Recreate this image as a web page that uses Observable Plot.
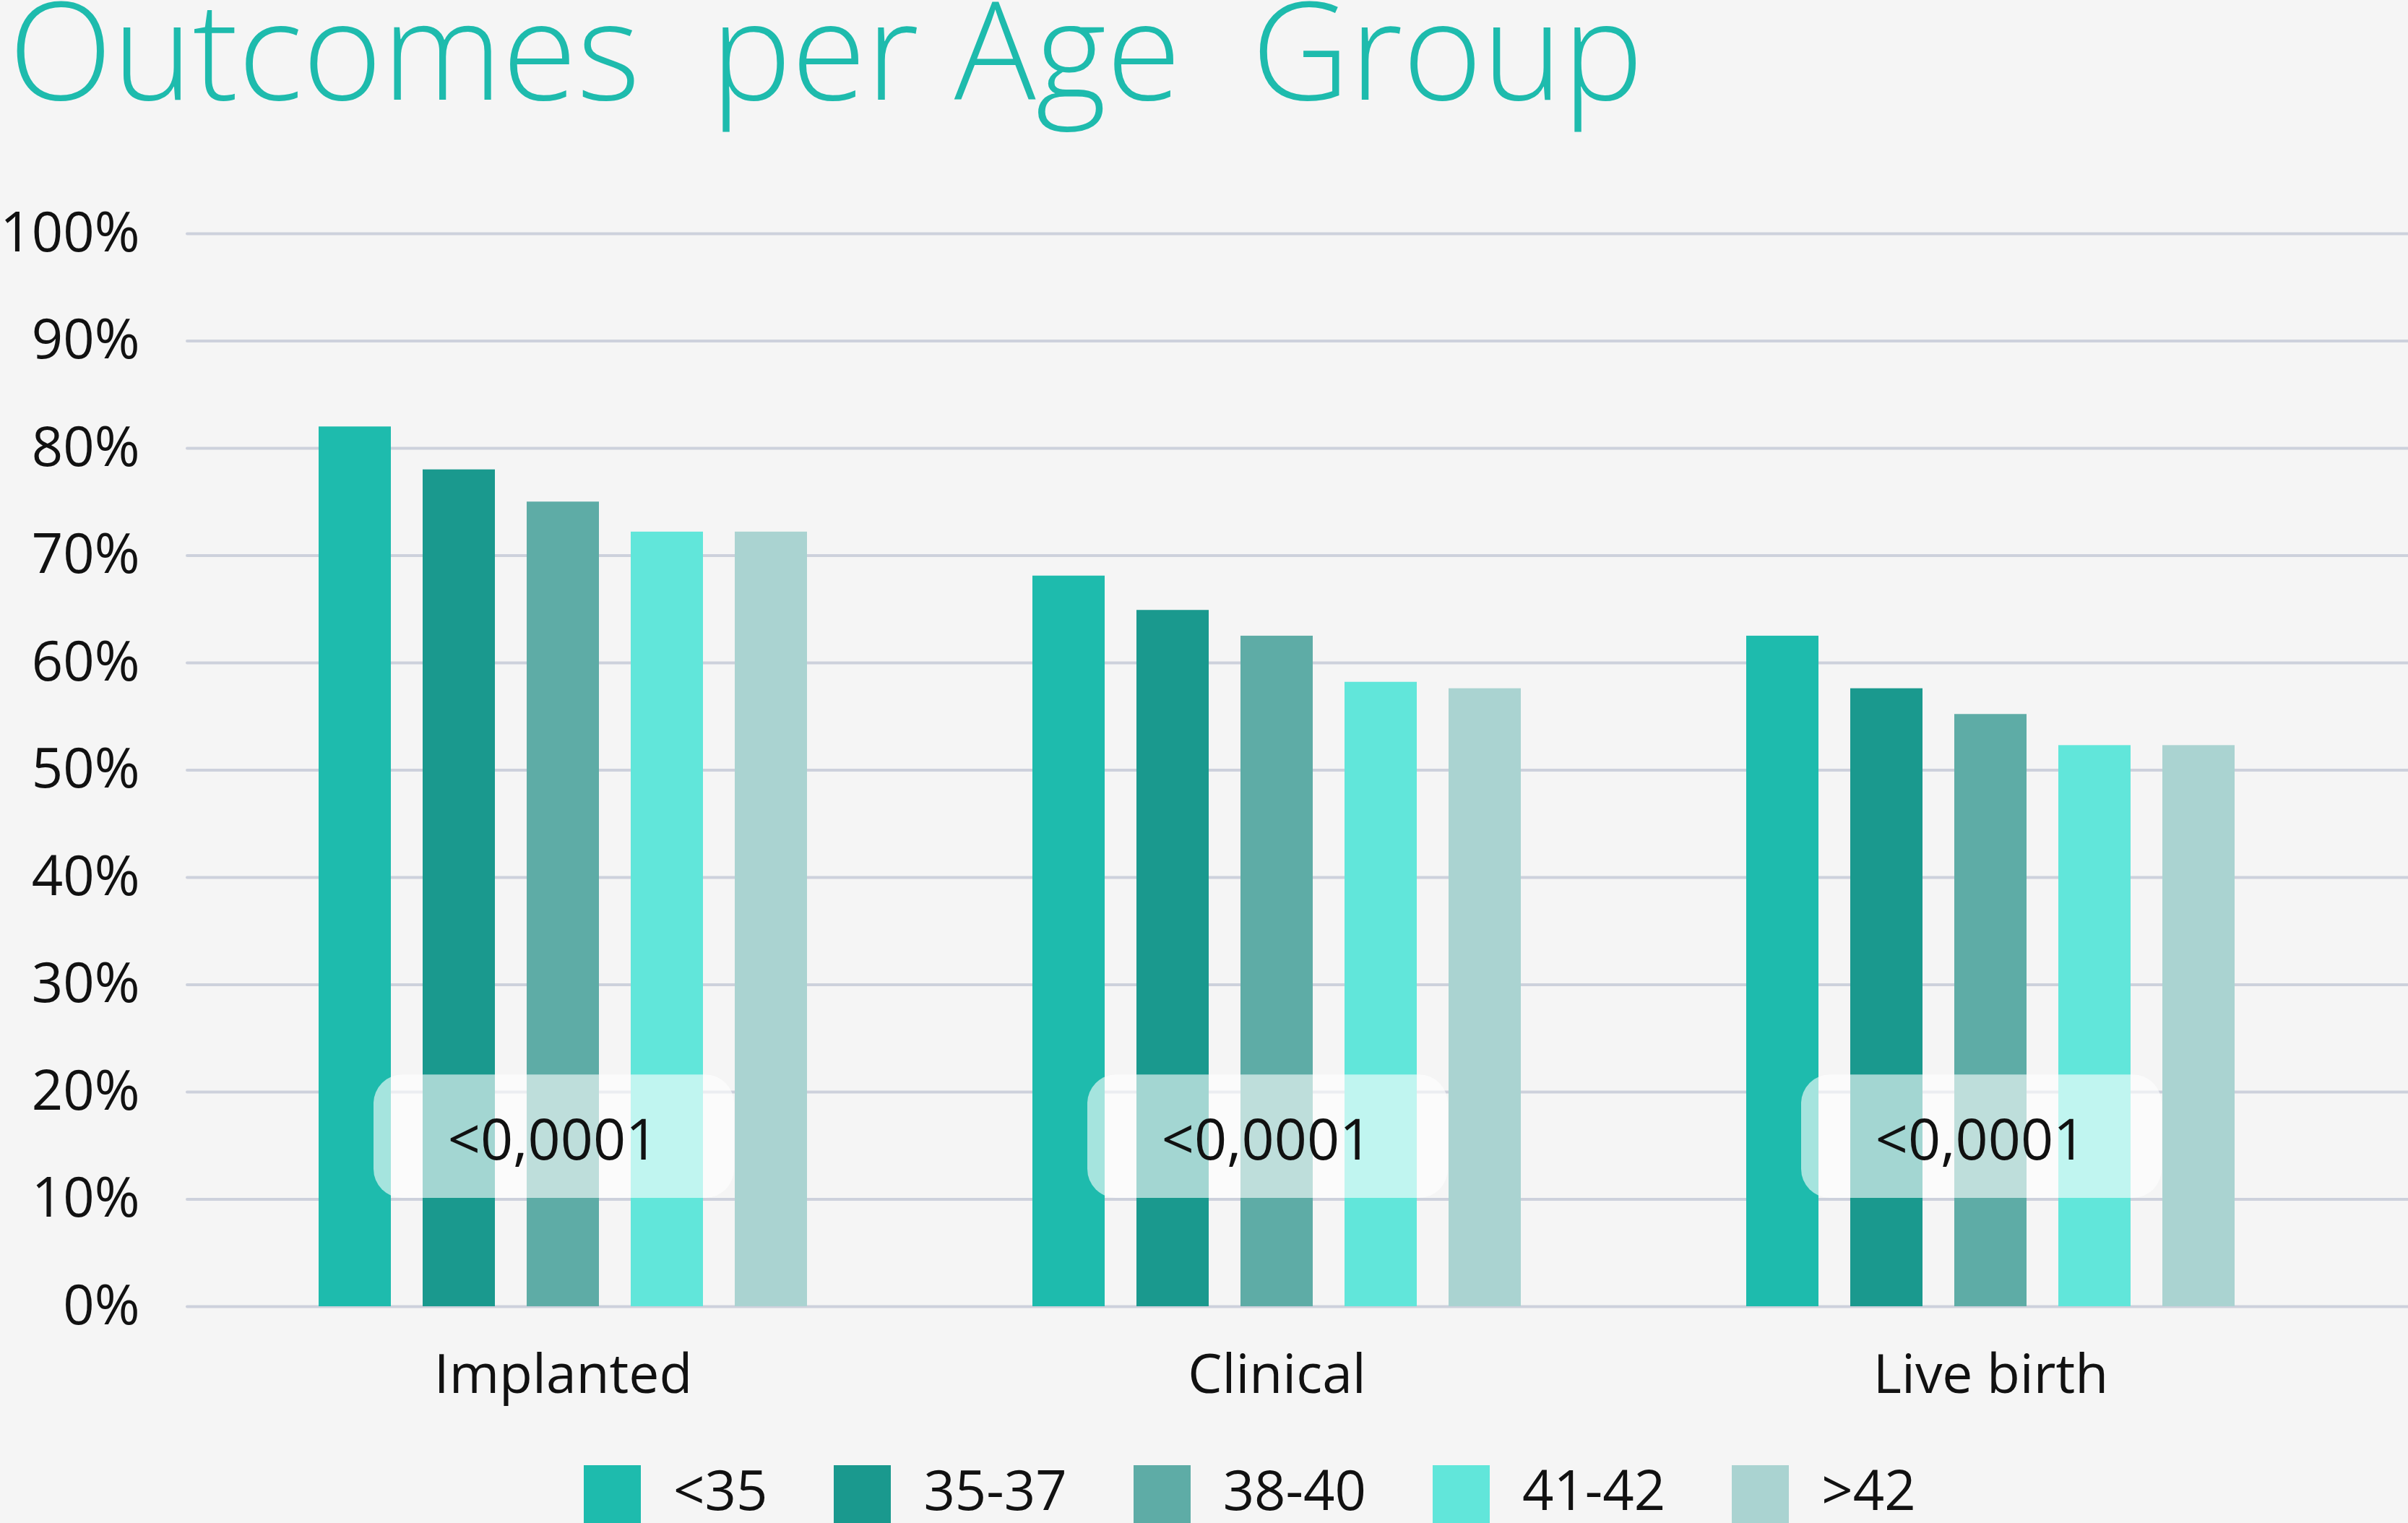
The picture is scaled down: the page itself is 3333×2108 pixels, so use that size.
<!DOCTYPE html>
<html>
<head>
<meta charset="utf-8">
<script src="https://cdn.jsdelivr.net/npm/d3@7"></script>
<script src="https://cdn.jsdelivr.net/npm/@observablehq/plot@0.6"></script>
<style>
  html, body { margin: 0; padding: 0; background: #f5f5f5; width: 3333px; height: 2108px; overflow: hidden; }
  body { font-family: "Open Sans", Lato, sans-serif; position: relative; }
  #title { position: absolute; left: 12px; top: 0px; font-size: 188px; line-height: 130px; font-weight: 300; color: #1ebbad; white-space: pre; }
  #chart { position: absolute; left: 0; top: 200px; width: 3333px; height: 1800px; }
  #chart svg { position: absolute; left: 0; top: 0; }
  #legend { position: absolute; left: 808px; top: 2028px; display: flex; align-items: flex-start; font-size: 76px; color: #111; }
  .item { display: flex; align-items: flex-start; margin-right: 92px; }
  .sw { width: 79px; height: 80px; margin-right: 45px; }
  .lt { display: block; height: 80px; line-height: 66px; }
</style>
</head>
<body>
<div id="title">Outcomes  per Age  Group</div>
<div id="chart"></div>
<div id="legend"></div>
<script>
// ---- data ----
const categories = ["Implanted", "Clinical", "Live birth"];
const ageGroups = ["<35", "35-37", "38-40", "41-42", ">42"];
const implanted = [82, 78, 75, 72.2, 72.2];
const clinical = [68.1, 64.9, 62.5, 58.2, 57.6];
const liveBirth = [62.5, 57.6, 55.2, 52.3, 52.3];
const pValues = ["<0,0001", "<0,0001", "<0,0001"];
const yTicks = [0, 10, 20, 30, 40, 50, 60, 70, 80, 90, 100];
const colors = ["#1ebbad", "#1a998e", "#5eaca6", "#61e6da", "#aad3d1"];

const series = [implanted, clinical, liveBirth];
const table = categories.flatMap((c, i) => ageGroups.map((a, j) => ({category: c, age: a, value: series[i][j]})));
const pTable = categories.map((c, i) => ({category: c, p: pValues[i]}));

const W = 3333, H = 1800, MT = 123, MB = 192;
const font = '"Open Sans", Lato, sans-serif';

// background: gridlines + y axis
const bg = Plot.plot({
  width: W, height: H, marginTop: MT, marginBottom: MB, marginLeft: 259, marginRight: 0,
  style: {background: "transparent", fontFamily: font, color: "#111", overflow: "visible"},
  y: {domain: [0, 100], axis: null},
  marks: [
    Plot.ruleY(yTicks, {stroke: "#cdd1dc", strokeWidth: 4, strokeLinecap: "round"}),
    Plot.axisY(yTicks, {tickSize: 0, tickPadding: 66, tickFormat: d => d + "%", fontSize: 76, fill: "#111", label: null})
  ]
});

// bars
const fg = Plot.plot({
  width: W, height: H, marginTop: MT, marginBottom: MB, marginLeft: 418, marginRight: 218,
  style: {background: "transparent", fontFamily: font, color: "#111", overflow: "visible"},
  fx: {domain: categories, paddingInner: 0.2713, paddingOuter: 0},
  x: {domain: ageGroups, paddingInner: 0.3056, paddingOuter: 0.1528, axis: null},
  y: {domain: [0, 100], axis: null},
  color: {domain: ageGroups, range: colors},
  marks: [
    Plot.barY(table, {fx: "category", x: "age", y: "value", fill: "age"}),
    Plot.rect(pTable, {fx: "category", y1: () => 10.1, y2: () => 21.6, fill: "white", fillOpacity: 0.6, rx: 40, insetLeft: 98, insetRight: 123}),
    Plot.text(pTable, {fx: "category", y: () => 15.4, text: "p", frameAnchor: "middle", dx: -14, fontSize: 79, fill: "#111"}),
    Plot.axisFx({anchor: "bottom", tickSize: 0, tickPadding: 66, fontSize: 75, fill: "#111", label: null})
  ]
});

const chart = document.getElementById("chart");
chart.appendChild(bg);
chart.appendChild(fg);

// legend
const legend = document.getElementById("legend");
ageGroups.forEach((a, i) => {
  const it = document.createElement("div");
  it.className = "item";
  const sw = document.createElement("div");
  sw.className = "sw";
  sw.style.background = colors[i];
  const t = document.createElement("span");
  t.className = "lt";
  t.textContent = a;
  it.appendChild(sw); it.appendChild(t);
  legend.appendChild(it);
});
</script>
</body>
</html>
